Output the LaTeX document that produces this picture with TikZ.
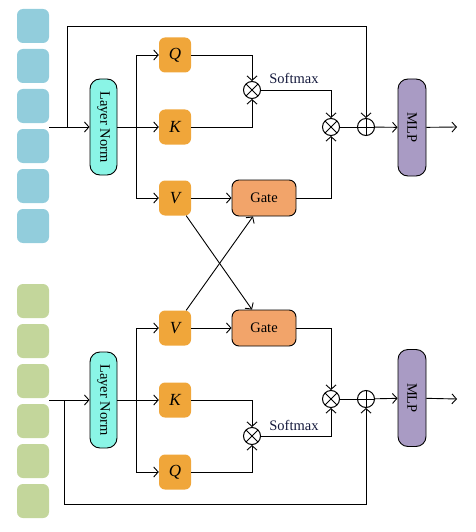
\documentclass[tikz,border=0pt]{standalone}
\usepackage{fontspec}
\setmainfont{Liberation Serif}
\usetikzlibrary{arrows.meta, calc}
\definecolor{TokBlue}{RGB}{146, 205, 220}
\definecolor{TokGreen}{RGB}{195, 214, 155}
\definecolor{NormCyan}{RGB}{138, 245, 230}
\definecolor{QKVOrange}{RGB}{240, 166, 58}
\definecolor{GateOrange}{RGB}{242, 164, 106}
\definecolor{MLPPurple}{RGB}{169, 155, 196}
\definecolor{LabelNavy}{RGB}{20, 25, 60}

\begin{document}
\begin{tikzpicture}[
  x=1pt, y=-1pt,
  every node/.style={font=\fontsize{14.5}{16}\selectfont},
  tok/.style={rounded corners=6pt, minimum width=32pt, minimum height=34pt, inner sep=0pt},
  norm/.style={draw, rounded corners=10pt, fill=NormCyan, line width=0.9pt,
               minimum width=27pt, minimum height=96pt, inner sep=0pt},
  qkv/.style={rounded corners=6pt, fill=QKVOrange, minimum width=32pt,
              minimum height=35pt, inner sep=0pt, font=\fontsize{17}{18}\selectfont\itshape},
  gate/.style={draw, rounded corners=7pt, fill=GateOrange, line width=0.9pt,
               minimum width=64pt, minimum height=36pt},
  mlp/.style={draw, rounded corners=10pt, fill=MLPPurple, line width=0.9pt,
              minimum width=28pt, minimum height=97pt, inner sep=0pt},
  mul/.style={circle, draw, line width=1pt, minimum size=17pt, inner sep=0pt,
              path picture={\draw[line width=1pt]
                (path picture bounding box.north west) -- (path picture bounding box.south east)
                (path picture bounding box.north east) -- (path picture bounding box.south west);}},
  add/.style={circle, draw, line width=1pt, minimum size=17pt, inner sep=0pt,
              path picture={\draw[line width=1pt]
                (path picture bounding box.north) -- (path picture bounding box.south)
                (path picture bounding box.west) -- (path picture bounding box.east);}},
  lbl/.style={text=LabelNavy},
  arr/.style={-{Straight Barb[length=4.5pt, width=10pt]}, line width=0.9pt},
  line/.style={line width=0.9pt}
]
  \useasboundingbox (0,0) rectangle (475,532);

  %% Tokens
  \foreach \i in {0,...,5} {
    \node[tok, fill=TokBlue]  (ta\i) at (33, 26+40*\i) {};
    \node[tok, fill=TokGreen] (tb\i) at (33, 301+40*\i) {};
  }

  %% Upper branch
  \coordinate (inA)    at (49, 127);
  \coordinate (brA)    at (67, 127);
  \coordinate (splitA) at (136, 127);
  \coordinate (outA)   at (457, 127);
  \node[norm]      (normA) at (103.5, 127) {\rotatebox{-90}{Layer Norm}};
  \node[qkv]       (qA)    at (175, 55)    {Q};
  \node[qkv]       (kA)    at (175, 127)   {K};
  \node[qkv]       (vA)    at (175, 198)   {V};
  \node[gate]      (gateA) at (264, 198)   {Gate};
  \node[mul]       (mulA1) at (252, 90)    {};
  \node[mul]       (mulA2) at (331, 127)   {};
  \node[add]       (addA)  at (366, 127)   {};
  \node[mlp]       (mlpA)  at (412, 127.5) {\rotatebox{-90}{MLP}};
  \node[lbl]       (smA)   at (294, 78)    {Softmax};

  %% Lower branch
  \coordinate (inB)    at (49, 400);
  \coordinate (brB)    at (64, 400);
  \coordinate (splitB) at (136, 400);
  \coordinate (outB)   at (457, 399);
  \node[norm]      (normB) at (103.5, 400) {\rotatebox{-90}{Layer Norm}};
  \node[qkv]       (vB)    at (175, 328)   {V};
  \node[qkv]       (kB)    at (175, 400)   {K};
  \node[qkv]       (qB)    at (175, 472)   {Q};
  \node[gate]      (gateB) at (264, 328)   {Gate};
  \node[mul]       (mulB1) at (252, 436)   {};
  \node[mul]       (mulB2) at (331, 399)   {};
  \node[add]       (addB)  at (366, 399)   {};
  \node[mlp]       (mlpB)  at (412, 398)   {\rotatebox{-90}{MLP}};
  \node[lbl]       (smB)   at (294, 425)   {Softmax};

  %% Arrows (upper)
  \draw[arr]  (inA) -- (normA);
  \draw[arr]  (brA) -- ++(0,-101) -| (addA.north);
  \draw[line] (normA.east) -- (splitA);
  \draw[arr]  (splitA) |- (qA);
  \draw[arr]  (splitA) -- (kA);
  \draw[arr]  (splitA) |- (vA);
  \draw[arr]  (qA) -| (mulA1.north);
  \draw[arr]  (kA) -| (mulA1.south);
  \draw[arr]  (mulA1) -| (mulA2.north);
  \draw[arr]  (gateA) -| (mulA2.south);
  \draw[line] (mulA2) -- (addA);
  \draw[arr]  (addA) -- (mlpA);
  \draw[arr]  (mlpA) -- (outA);
  \draw[arr]  (vA) -- (gateA);

  %% Arrows (lower)
  \draw[arr]  (inB) -- (normB);
  \draw[arr]  (brB) -- ++(0,104) -| (addB.south);
  \draw[line] (normB.east) -- (splitB);
  \draw[arr]  (splitB) |- (vB);
  \draw[arr]  (splitB) -- (kB);
  \draw[arr]  (splitB) |- (qB);
  \draw[arr]  (kB) -| (mulB1.north);
  \draw[arr]  (qB) -| (mulB1.south);
  \draw[arr]  (mulB1) -| (mulB2.south);
  \draw[arr]  (gateB) -| (mulB2.north);
  \draw[line] (mulB2) -- (addB);
  \draw[arr]  (addB) -- (mlpB);
  \draw[arr]  (mlpB) -- (outB);
  \draw[arr]  (vB) -- (gateB);

  %% Cross links between the branches
  \draw[arr] ([xshift=-5pt]vA.south east) -- ([xshift=-12pt]gateB.north);
  \draw[arr] ([xshift=-5pt]vB.north east) -- ([xshift=-11pt]gateA.south);
\end{tikzpicture}
\end{document}
